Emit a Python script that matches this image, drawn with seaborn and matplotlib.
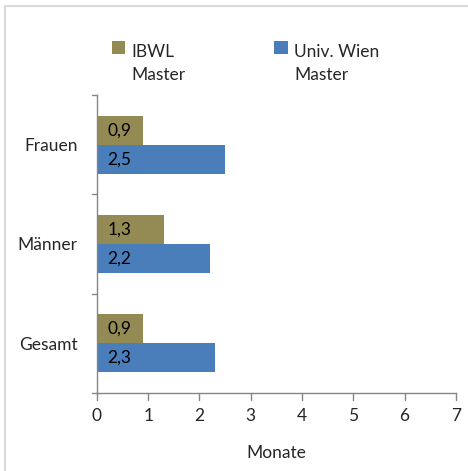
import numpy as np
import pandas as pd
import matplotlib.pyplot as plt
import matplotlib.patches as mpatches
from matplotlib.legend_handler import HandlerPatch
import seaborn as sns

# data
categories = ["Frauen", "Männer", "Gesamt"]
ibwl = [0.9, 1.3, 0.9]
wien = [2.5, 2.2, 2.3]
series = ["IBWL\nMaster", "Univ. Wien\nMaster"]
xticks = [0, 1, 2, 3, 4, 5, 6, 7]

df = pd.DataFrame({
    "Kategorie": categories * 2,
    "Monate": ibwl + wien,
    "Gruppe": [series[0]] * 3 + [series[1]] * 3,
})

sns.set_style("white")
plt.rcParams["font.family"] = ["Lato", "DejaVu Sans"]
fs = 12.5

fig = plt.figure(figsize=(4.68, 4.71), dpi=100)
ax = fig.add_axes([0.207, 0.166, 0.767, 0.632])

colors = ["#948A54", "#4A7EBB"]
sns.barplot(data=df, x="Monate", y="Kategorie", hue="Gruppe", orient="h",
            palette=colors, saturation=1, width=0.58, ax=ax, legend=True,
            linewidth=0)

# value labels inside the bars, near the left
for cont in ax.containers:
    for bar in cont:
        v = bar.get_width()
        ax.text(0.2, bar.get_y() + bar.get_height() / 2,
                f"{v:.1f}".replace(".", ","), va="center", ha="left",
                fontsize=fs, color="black")

ax.set_xlim(0, 7)
ax.set_ylim(2.5, -0.5)
ax.set_xticks(xticks)
ax.set_xticklabels([str(t) for t in xticks], fontsize=fs)
ax.set_yticks(range(len(categories)))
ax.set_yticklabels(categories, fontsize=fs)
ax.tick_params(axis="y", length=0, pad=14)
ax.tick_params(axis="x", length=0, pad=11)
ax.set_xlabel("Monate", fontsize=fs, labelpad=15)
ax.set_ylabel("")

# tick marks like Excel: y at category borders, x at integers
for yb in [-0.5, 0.5, 1.5, 2.5]:
    ax.plot([-0.09, 0], [yb, yb], color="#868686", lw=1, clip_on=False)
for xt in xticks:
    ax.plot([xt, xt], [2.5, 2.57], color="#868686", lw=1, clip_on=False)

for s in ["top", "right"]:
    ax.spines[s].set_visible(False)
for s in ["left", "bottom"]:
    ax.spines[s].set_color("#868686")
    ax.spines[s].set_linewidth(1)


def top_square(legend, orig_handle, xdescent, ydescent, width, height, fontsize):
    # put the square next to the first line of the two-line label
    return mpatches.Rectangle((-xdescent, -ydescent + 0.95 * fontsize),
                              width, height)


handles, labels = ax.get_legend_handles_labels()
ax.legend_.remove()
leg = fig.legend(handles, labels, loc="upper left", bbox_to_anchor=(0.205, 0.94),
                 ncol=2, frameon=False, fontsize=fs, handlelength=0.8,
                 handleheight=0.8, handletextpad=0.35, columnspacing=5.1,
                 handler_map={mpatches.Rectangle: HandlerPatch(patch_func=top_square)})
for t in leg.get_texts():
    t.set_linespacing(1.55)

# light frame around the chart area
fig.patches.append(mpatches.Rectangle((0.01, -0.05), 1.1, 1.037,
                                      transform=fig.transFigure, fill=False,
                                      edgecolor="#D9D9D9", lw=1.5))

fig.savefig("out.png", dpi=100)
